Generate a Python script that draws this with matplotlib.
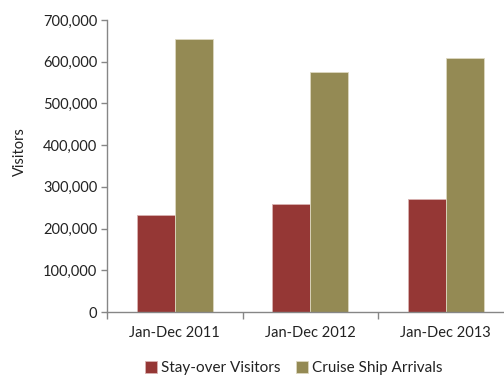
import matplotlib
matplotlib.use("Agg")
import matplotlib.pyplot as plt
import numpy as np
from matplotlib.ticker import FuncFormatter, FixedLocator

categories = ["Jan-Dec 2011", "Jan-Dec 2012", "Jan-Dec 2013"]
stay_over = [232600, 258300, 271700]
cruise = [654700, 576300, 609800]
series_names = ["Stay-over Visitors", "Cruise Ship Arrivals"]

plt.rcParams['font.family'] = ['Lato', 'DejaVu Sans']

fig = plt.figure(figsize=(5.04, 3.77), dpi=100)
ax = fig.add_axes([107/504, 65/377, 406.5/504, 292/377])

x = np.arange(len(categories))
w = 0.28
b1 = ax.bar(x - w/2, stay_over, w, color="#953735", edgecolor="#d9b3b2", linewidth=0.6, label=series_names[0])
b2 = ax.bar(x + w/2, cruise, w, color="#948A54", edgecolor="#ddd8c0", linewidth=0.6, label=series_names[1])

ax.set_xlim(-0.5, 2.5)
ax.set_ylim(0, 700000)
ax.set_yticks(np.arange(0, 700001, 100000))
ax.yaxis.set_major_formatter(FuncFormatter(lambda v, p: f"{int(v):,}"))
ax.set_xticks(x)
ax.set_xticklabels(categories)
ax.xaxis.set_minor_locator(FixedLocator([-0.5, 0.5, 1.5, 2.5]))
ax.tick_params(axis='x', which='major', length=0, pad=10, labelsize=10.5, colors='#222222')
ax.tick_params(axis='x', which='minor', length=5, width=1, color='#868686', direction='out')
ax.tick_params(axis='y', length=4, width=1, color='#868686', labelsize=10.5, labelcolor='#222222', pad=3)

for s in ['top', 'right']:
    ax.spines[s].set_visible(False)
for s in ['left', 'bottom']:
    ax.spines[s].set_color('#868686')
    ax.spines[s].set_linewidth(1)

ax.set_ylabel("Visitors", fontsize=10.5, color='#222222')
ax.yaxis.set_label_coords(-0.198, 0.548)

fig.legend(handles=[b1, b2], labels=series_names, loc='center', bbox_to_anchor=(294/504, 0.024),
           ncol=2, frameon=False, fontsize=11, handlelength=0.75, handleheight=0.8,
           handletextpad=0.3, columnspacing=1.0, labelcolor='#222222')

fig.savefig("out.png", dpi=100)
